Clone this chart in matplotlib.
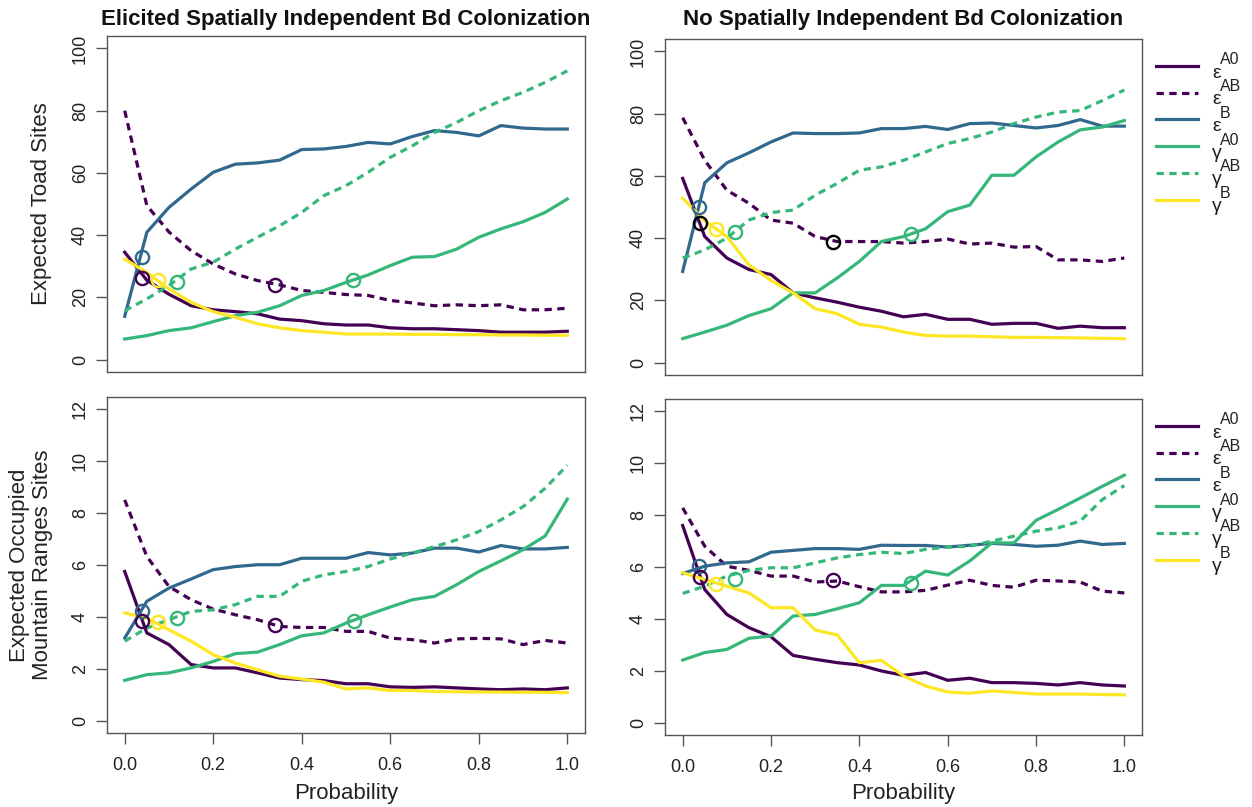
import matplotlib
matplotlib.use("Agg")
import matplotlib.pyplot as plt

plt.rcParams['font.family'] = ['Liberation Sans', 'DejaVu Sans']

# ---------------- data ----------------
probability = [0.0, 0.05, 0.1, 0.15, 0.2, 0.25, 0.3, 0.35, 0.4, 0.45, 0.5,
               0.55, 0.6, 0.65, 0.7, 0.75, 0.8, 0.85, 0.9, 0.95, 1.0]

series_names = ["A0", "AB", "B", "A0", "AB", "B"]
series_greek = ["ε", "ε", "ε", "γ", "γ", "γ"]

# Top-left: Elicited, toad sites
tl_eps_A0 = [34.5, 25.5, 21.0, 17.3, 16.0, 15.4, 14.7, 13.0, 12.5, 11.5, 11.1,
             11.1, 10.2, 9.9, 9.9, 9.6, 9.3, 8.8, 8.8, 8.8, 9.1]
tl_eps_AB = [80.0, 49.5, 41.0, 35.0, 30.7, 27.5, 25.4, 24.0, 22.2, 21.6, 20.9,
             20.6, 19.0, 18.2, 17.3, 17.6, 17.3, 17.6, 16.0, 16.0, 16.5]
tl_eps_B = [13.9, 40.9, 48.9, 54.8, 60.2, 62.8, 63.2, 64.1, 67.5, 67.7, 68.5,
            69.8, 69.3, 71.7, 73.6, 73.0, 71.9, 75.2, 74.4, 74.1, 74.1]
tl_gam_A0 = [6.6, 7.7, 9.3, 10.2, 12.2, 14.1, 15.2, 17.3, 20.6, 22.2, 24.8,
             27.2, 30.2, 32.9, 33.1, 35.5, 39.3, 42.0, 44.3, 47.3, 51.6]
tl_gam_AB = [15.7, 19.5, 23.8, 29.1, 31.3, 35.5, 39.3, 43.0, 47.3, 52.7, 55.9,
             60.2, 65.0, 68.7, 73.0, 76.2, 80.0, 83.2, 85.9, 89.1, 92.8]
tl_gam_B = [32.3, 28.0, 22.7, 18.4, 15.4, 13.6, 11.5, 10.2, 9.3, 8.8, 8.2,
            8.2, 8.2, 8.1, 8.1, 8.0, 8.0, 7.9, 7.9, 7.8, 7.8]
tl_circ_x = [0.039, 0.04, 0.075, 0.118, 0.34, 0.516]
tl_circ_y = [32.9, 26.1, 25.7, 25.0, 24.0, 25.7]

# Top-right: No spatially independent, toad sites
tr_eps_A0 = [59.2, 40.5, 33.6, 29.9, 28.3, 22.4, 20.8, 19.4, 17.8, 16.5, 14.7,
             15.5, 13.9, 13.9, 12.3, 12.6, 12.6, 11.0, 11.7, 11.2, 11.2]
tr_eps_AB = [78.7, 65.0, 55.4, 51.2, 45.8, 44.8, 40.5, 38.9, 38.9, 38.9, 38.4,
             38.9, 39.7, 38.1, 38.4, 37.1, 37.3, 33.0, 33.0, 32.5, 33.6]
tr_eps_B = [29.3, 57.8, 64.2, 67.4, 70.9, 73.8, 73.6, 73.6, 73.8, 75.2, 75.2,
            75.9, 74.9, 76.8, 77.0, 76.2, 75.4, 76.2, 78.1, 76.0, 76.0]
tr_gam_A0 = [7.7, 9.8, 12.0, 15.1, 17.3, 22.4, 22.4, 27.2, 32.5, 38.9, 40.5,
             43.0, 48.5, 50.6, 60.2, 60.2, 66.1, 70.9, 74.8, 75.7, 77.8]
tr_gam_AB = [33.6, 36.2, 40.0, 45.8, 48.2, 49.0, 53.8, 57.6, 61.8, 62.9, 65.0,
             67.7, 70.4, 72.0, 74.1, 76.8, 78.9, 80.5, 81.0, 84.2, 87.6]
tr_gam_B = [52.8, 45.6, 40.5, 31.4, 26.4, 22.4, 17.3, 15.7, 12.3, 11.4, 9.8,
            8.7, 8.5, 8.5, 8.3, 8.1, 8.1, 8.0, 7.9, 7.8, 7.7]
tr_circ_x = [0.0375, 0.04, 0.075, 0.118, 0.34, 0.516]
tr_circ_y = [50.1, 45.0, 43.0, 42.1, 38.9, 41.3]

# Bottom-left: Elicited, mountain ranges
bl_eps_A0 = [5.75, 3.38, 2.93, 2.16, 2.03, 2.03, 1.84, 1.64, 1.58, 1.54, 1.42,
             1.42, 1.30, 1.28, 1.30, 1.26, 1.22, 1.19, 1.22, 1.19, 1.26]
bl_eps_AB = [8.51, 6.33, 5.17, 4.66, 4.30, 4.08, 3.89, 3.63, 3.59, 3.59, 3.44,
             3.44, 3.18, 3.12, 2.99, 3.15, 3.17, 3.15, 2.93, 3.09, 2.99]
bl_eps_B = [3.18, 4.60, 5.11, 5.46, 5.82, 5.94, 6.01, 6.01, 6.26, 6.26, 6.26,
            6.48, 6.39, 6.46, 6.65, 6.65, 6.50, 6.75, 6.62, 6.62, 6.68]
bl_gam_A0 = [1.55, 1.77, 1.84, 2.03, 2.28, 2.58, 2.64, 2.93, 3.27, 3.38, 3.76,
             4.08, 4.38, 4.66, 4.79, 5.24, 5.75, 6.16, 6.59, 7.12, 8.54]
bl_gam_AB = [3.06, 3.57, 3.89, 4.21, 4.27, 4.47, 4.79, 4.79, 5.37, 5.62, 5.75,
             5.94, 6.23, 6.46, 6.71, 6.97, 7.29, 7.74, 8.25, 8.96, 9.85]
bl_gam_B = [4.15, 3.95, 3.50, 3.06, 2.54, 2.22, 1.96, 1.71, 1.60, 1.48, 1.22,
            1.26, 1.16, 1.16, 1.12, 1.11, 1.10, 1.10, 1.09, 1.09, 1.08]
bl_circ_x = [0.039, 0.039, 0.075, 0.119, 0.34, 0.517]
bl_circ_y = [4.21, 3.83, 3.80, 3.95, 3.70, 3.85]

# Bottom-right: No spatially independent, mountain ranges
br_eps_A0 = [7.60, 5.13, 4.17, 3.66, 3.31, 2.59, 2.44, 2.31, 2.22, 1.99, 1.82,
             1.93, 1.63, 1.71, 1.54, 1.54, 1.51, 1.45, 1.54, 1.45, 1.41]
br_eps_AB = [8.28, 6.80, 6.03, 5.87, 5.65, 5.65, 5.42, 5.46, 5.24, 5.04, 5.04,
             5.10, 5.30, 5.49, 5.29, 5.22, 5.49, 5.46, 5.42, 5.07, 5.00]
br_eps_B = [5.75, 6.03, 6.16, 6.20, 6.57, 6.64, 6.71, 6.71, 6.68, 6.84, 6.83,
            6.83, 6.77, 6.84, 6.91, 6.87, 6.80, 6.84, 7.00, 6.87, 6.91]
br_gam_A0 = [2.41, 2.70, 2.82, 3.25, 3.34, 4.11, 4.17, 4.39, 4.62, 5.29, 5.29,
             5.84, 5.69, 6.23, 6.93, 6.93, 7.80, 8.22, 8.66, 9.11, 9.54]
br_gam_AB = [4.98, 5.26, 5.65, 5.87, 5.97, 5.97, 6.16, 6.35, 6.48, 6.57, 6.52,
             6.68, 6.77, 6.80, 7.00, 7.19, 7.38, 7.51, 7.77, 8.60, 9.14]
br_gam_B = [5.78, 5.52, 5.26, 5.00, 4.43, 4.43, 3.57, 3.38, 2.31, 2.40, 1.80,
            1.41, 1.18, 1.13, 1.22, 1.16, 1.10, 1.10, 1.10, 1.08, 1.07]
br_circ_x = [0.0376, 0.04, 0.075, 0.118, 0.34, 0.516]
br_circ_y = [6.03, 5.60, 5.33, 5.55, 5.48, 5.39]

titles = ["Elicited Spatially Independent Bd Colonization",
          "No Spatially Independent Bd Colonization"]
ylabels = ["Expected Toad Sites", "Expected Occupied\nMountain Ranges Sites"]
xlabel = "Probability"
x_ticks = [0.0, 0.2, 0.4, 0.6, 0.8, 1.0]
x_ticklabels = ["0.0", "0.2", "0.4", "0.6", "0.8", "1.0"]
top_yticks = [0, 20, 40, 60, 80, 100]
bot_yticks = [0, 2, 4, 6, 8, 10, 12]

# ---------------- style ----------------
PURPLE = "#440154"
BLUE = "#31688E"
GREEN = "#35B779"
YELLOW = "#FDE725"
series_colors = [PURPLE, PURPLE, BLUE, GREEN, GREEN, YELLOW]
series_dashed = [False, True, False, False, True, False]
# circle order: eps_B, eps_A0, gam_B, gam_AB, eps_AB, gam_A0
circle_colors_default = [BLUE, PURPLE, YELLOW, GREEN, PURPLE, GREEN]
circle_colors_tr = [BLUE, "black", YELLOW, GREEN, "black", GREEN]

W, H = 1252, 807
fig = plt.figure(figsize=(W / 100, H / 100), dpi=100)

def add_ax(left, right, top, bottom):
    return fig.add_axes([left / W, 1 - bottom / H, (right - left) / W, (bottom - top) / H])

BOXC = "#555555"
TXTC = "#222222"
LW = 2.3
DASH = (0, (2.3, 1.7))

panels = [
    dict(box=(107, 585, 36, 372),
         series=[tl_eps_A0, tl_eps_AB, tl_eps_B, tl_gam_A0, tl_gam_AB, tl_gam_B],
         cx=tl_circ_x, cy=tl_circ_y, cc=circle_colors_default,
         yt=top_yticks, ylim=(-4, 104), xt=False, title=titles[0], ylab=ylabels[0],
         ylab_x=42),
    dict(box=(665, 1142, 39, 375),
         series=[tr_eps_A0, tr_eps_AB, tr_eps_B, tr_gam_A0, tr_gam_AB, tr_gam_B],
         cx=tr_circ_x, cy=tr_circ_y, cc=circle_colors_tr,
         yt=top_yticks, ylim=(-4, 104), xt=False, title=titles[1], ylab=None),
    dict(box=(107, 585, 397, 733),
         series=[bl_eps_A0, bl_eps_AB, bl_eps_B, bl_gam_A0, bl_gam_AB, bl_gam_B],
         cx=bl_circ_x, cy=bl_circ_y, cc=circle_colors_default,
         yt=bot_yticks, ylim=(-0.48, 12.48), xt=True, title=None, ylab=ylabels[1],
         ylab_x=31),
    dict(box=(665, 1142, 399, 735),
         series=[br_eps_A0, br_eps_AB, br_eps_B, br_gam_A0, br_gam_AB, br_gam_B],
         cx=br_circ_x, cy=br_circ_y, cc=circle_colors_default,
         yt=bot_yticks, ylim=(-0.48, 12.48), xt=True, title=None, ylab=None),
]

for p in panels:
    left, right, top, bottom = p["box"]
    ax = add_ax(left, right, top, bottom)
    for vals, col, dashed in zip(p["series"], series_colors, series_dashed):
        if dashed:
            ax.plot(probability, vals, color=col, lw=LW, linestyle=DASH,
                    dash_capstyle="butt")
        else:
            ax.plot(probability, vals, color=col, lw=LW, solid_joinstyle="round")
    for x, y, c in zip(p["cx"], p["cy"], p["cc"]):
        ax.plot([x], [y], marker="o", markersize=9.5, markerfacecolor="none",
                markeredgecolor=c, markeredgewidth=1.7, linestyle="none")
    ax.set_xlim(-0.04, 1.04)
    ax.set_ylim(*p["ylim"])
    for s in ax.spines.values():
        s.set_color(BOXC)
        s.set_linewidth(1.0)
    ax.set_yticks(p["yt"])
    ax.set_yticklabels([str(v) for v in p["yt"]], rotation=90, va="center",
                       fontsize=13, color=TXTC)
    ax.tick_params(axis="y", length=8, width=1.0, color=BOXC, pad=5)
    cx_mid = (left + right) / 2
    if p["xt"]:
        ax.set_xticks(x_ticks)
        ax.set_xticklabels(x_ticklabels, fontsize=13, color=TXTC)
        ax.tick_params(axis="x", length=8, width=1.0, color=BOXC, pad=9)
        fig.text(cx_mid / W, 1 - 793 / H, xlabel, fontsize=16, color=TXTC,
                 ha="center", va="center")
    else:
        ax.set_xticks([])
    if p["title"]:
        fig.text(cx_mid / W, 1 - 20 / H, p["title"], fontsize=16, fontweight="bold",
                 color="#111111", ha="center", va="center")
    if p["ylab"]:
        fig.text(p["ylab_x"] / W, 1 - ((top + bottom) / 2) / H, p["ylab"], fontsize=16,
                 color=TXTC, rotation=90, ha="center", va="center",
                 linespacing=1.1, multialignment="center")

# ---------------- legends ----------------
def legend(y0):
    step = 26.7
    for i in range(6):
        yc = y0 + i * step
        yf = 1 - yc / H
        ls = DASH if series_dashed[i] else "-"
        fig.add_artist(plt.Line2D([1156 / W, 1198 / W], [yf, yf], color=series_colors[i],
                                  lw=LW, linestyle=ls, transform=fig.transFigure))
        fig.text(1212 / W, 1 - (yc + 7) / H, series_greek[i], fontsize=14,
                 ha="left", va="center", color=TXTC)
        fig.text(1220 / W, 1 - (yc - 6) / H, series_names[i], fontsize=11.5,
                 ha="left", va="center", color=TXTC)

legend(66)
legend(426)

fig.savefig("out.png", dpi=100)
